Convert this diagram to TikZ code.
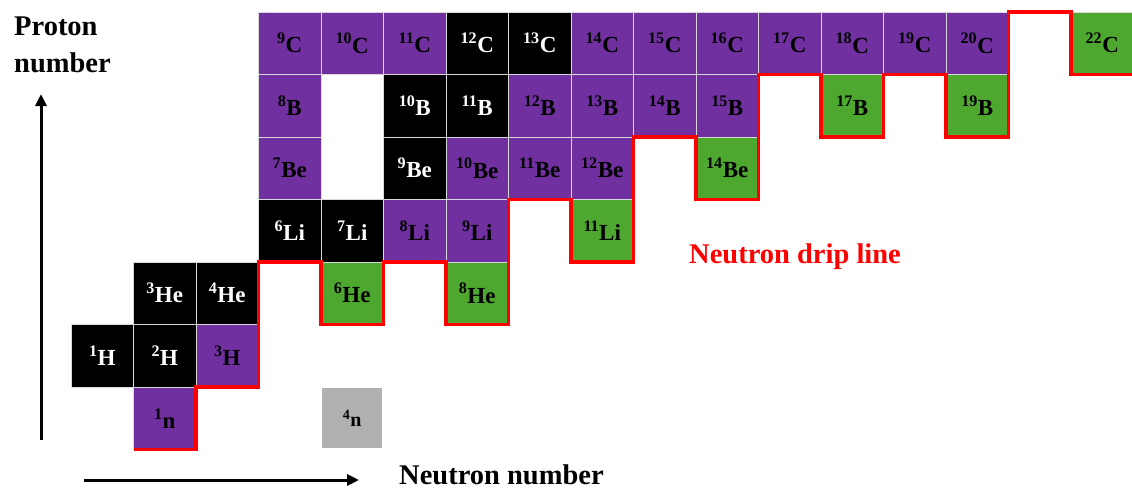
\documentclass[tikz,border=0pt]{standalone}
\usepackage{fontspec}
\setmainfont{Liberation Serif}
\usetikzlibrary{arrows.meta}
\definecolor{unstable}{HTML}{7030A0}
\definecolor{dripgreen}{HTML}{4EA72E}
\definecolor{fourn}{HTML}{B0B0B0}
\newcommand{\isotope}[6]{%
  \node[#6] (#1) at ({71+62.5*#2+31.25},{387-62.5*#3+31.25}) {\textsuperscript{#4}#5};}
\begin{document}
\begin{tikzpicture}[x=1pt,y=-1pt,
  cell/.style={draw=gray!30, line width=0.9pt, minimum width=62.5pt, minimum height=62.5pt,
    inner sep=0pt, font=\fontsize{23}{23}\selectfont\bfseries},
  stable/.style={cell, fill=black, text=white},
  unst/.style={cell, fill=unstable, text=black},
  drip/.style={cell, fill=dripgreen, text=black},
  tetra/.style={cell, draw=white, fill=fourn, text=black, minimum width=61pt, minimum height=61pt,
    font=\fontsize{20}{20}\selectfont\bfseries},
  axis/.style={line width=3pt, -{Triangle[length=12pt,width=11pt]}},
  dripline/.style={red, line width=3.5pt, line join=miter},
  lab/.style={font=\fontsize{28.5}{30}\selectfont\bfseries, inner sep=0pt, anchor=base west}]
\useasboundingbox (0,0) rectangle (1132,490);
% carbon
\isotope{C9}{3}{6}{9}{C}{unst}
\isotope{C10}{4}{6}{10}{C}{unst}
\isotope{C11}{5}{6}{11}{C}{unst}
\isotope{C12}{6}{6}{12}{C}{stable}
\isotope{C13}{7}{6}{13}{C}{stable}
\isotope{C14}{8}{6}{14}{C}{unst}
\isotope{C15}{9}{6}{15}{C}{unst}
\isotope{C16}{10}{6}{16}{C}{unst}
\isotope{C17}{11}{6}{17}{C}{unst}
\isotope{C18}{12}{6}{18}{C}{unst}
\isotope{C19}{13}{6}{19}{C}{unst}
\isotope{C20}{14}{6}{20}{C}{unst}
\isotope{C22}{16}{6}{22}{C}{drip}
% boron
\isotope{B8}{3}{5}{8}{B}{unst}
\isotope{B10}{5}{5}{10}{B}{stable}
\isotope{B11}{6}{5}{11}{B}{stable}
\isotope{B12}{7}{5}{12}{B}{unst}
\isotope{B13}{8}{5}{13}{B}{unst}
\isotope{B14}{9}{5}{14}{B}{unst}
\isotope{B15}{10}{5}{15}{B}{unst}
\isotope{B17}{12}{5}{17}{B}{drip}
\isotope{B19}{14}{5}{19}{B}{drip}
% beryllium
\isotope{Be7}{3}{4}{7}{Be}{unst}
\isotope{Be9}{5}{4}{9}{Be}{stable}
\isotope{Be10}{6}{4}{10}{Be}{unst}
\isotope{Be11}{7}{4}{11}{Be}{unst}
\isotope{Be12}{8}{4}{12}{Be}{unst}
\isotope{Be14}{10}{4}{14}{Be}{drip}
% lithium
\isotope{Li6}{3}{3}{6}{Li}{stable}
\isotope{Li7}{4}{3}{7}{Li}{stable}
\isotope{Li8}{5}{3}{8}{Li}{unst}
\isotope{Li9}{6}{3}{9}{Li}{unst}
\isotope{Li11}{8}{3}{11}{Li}{drip}
% helium
\isotope{He3}{1}{2}{3}{He}{stable}
\isotope{He4}{2}{2}{4}{He}{stable}
\isotope{He6}{4}{2}{6}{He}{drip}
\isotope{He8}{6}{2}{8}{He}{drip}
% hydrogen
\isotope{H1}{0}{1}{1}{H}{stable}
\isotope{H2}{1}{1}{2}{H}{stable}
\isotope{H3}{2}{1}{3}{H}{unst}
% neutrons
\isotope{n1}{1}{0}{1}{n}{unst}
\isotope{n4}{4}{0}{4}{n}{tetra}
% drip line
\draw[dripline] (133.5,449.5) -- (196,449.5) -- (196,387) -- (258.5,387) -- (258.5,262)
  -- (321,262) -- (321,324.5) -- (383.5,324.5) -- (383.5,262) -- (446,262) -- (446,324.5)
  -- (508.5,324.5) -- (508.5,199.5) -- (571,199.5) -- (571,262) -- (633.5,262) -- (633.5,137)
  -- (696,137) -- (696,199.5) -- (758.5,199.5) -- (758.5,74.5) -- (821,74.5) -- (821,137)
  -- (883.5,137) -- (883.5,74.5) -- (946,74.5) -- (946,137) -- (1008.5,137) -- (1008.5,12)
  -- (1071,12) -- (1071,74.5) -- (1132,74.5);
% axes
\coordinate (ya) at (41,440);
\coordinate (yb) at (41,94);
\coordinate (xa) at (84,480);
\coordinate (xb) at (359,480);
\draw[axis] (ya) -- (yb);
\draw[axis] (xa) -- (xb);
% labels
\node[lab] (pl1) at (14,35) {Proton};
\node[lab] (pl2) at (14,72) {number};
\node[lab] (nl) at (399,484) {Neutron number};
\node[lab, text=red] (dl) at (689,263) {Neutron drip line};
\end{tikzpicture}
\end{document}
